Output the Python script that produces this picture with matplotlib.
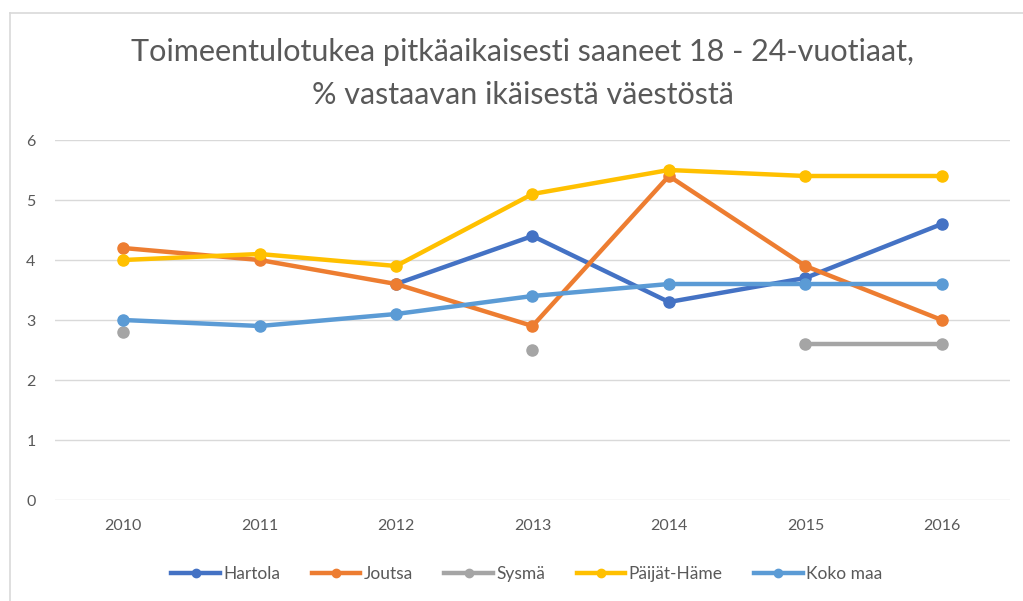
import matplotlib
matplotlib.use('Agg')
import matplotlib.pyplot as plt
from matplotlib.lines import Line2D

plt.rcParams['font.family'] = ['Lato', 'DejaVu Sans']

# Data (None = no value)
years = ['2010', '2011', '2012', '2013', '2014', '2015', '2016']
hartola = [None, None, 3.6, 4.4, 3.3, 3.7, 4.6]
joutsa = [4.2, 4.0, 3.6, 2.9, 5.4, 3.9, 3.0]
sysma = [2.8, None, None, 2.5, None, 2.6, 2.6]
paijat_hame = [4.0, 4.1, 3.9, 5.1, 5.5, 5.4, 5.4]
koko_maa = [3.0, 2.9, 3.1, 3.4, 3.6, 3.6, 3.6]

names = ['Hartola', 'Joutsa', 'Sysmä', 'Päijät-Häme', 'Koko maa']
series = [hartola, joutsa, sysma, paijat_hame, koko_maa]
colors = ['#4472C4', '#ED7D31', '#A5A5A5', '#FFC000', '#5B9BD5']

fig = plt.figure(figsize=(10.23, 6.01), dpi=100)
ax = fig.add_axes([55/1023, 1 - 500/601, (1010 - 55)/1023, 360/601])

x = list(range(len(years)))
for name, vals, col in zip(names, series, colors):
    ys = [float('nan') if v is None else v for v in vals]
    ax.plot(x, ys, color=col, lw=3.2, marker='o', ms=8, label=name,
            solid_capstyle='round')

ax.set_xlim(-0.5, len(years) - 0.5)
ax.set_ylim(0, 6)
ax.set_xticks(x)
ax.set_xticklabels(years)
ax.set_yticks(range(7))
ax.grid(axis='y', color='#D9D9D9', lw=1)
ax.set_axisbelow(True)
for s in ax.spines.values():
    s.set_visible(False)
ax.tick_params(length=0, colors='#595959', labelsize=11.5)
ax.tick_params(axis='x', pad=14)
ax.tick_params(axis='y', pad=14)

fig.text(0.511, 1 - 52/601, 'Toimeentulotukea pitkäaikaisesti saaneet 18 - 24-vuotiaat,',
         ha='center', va='center', fontsize=22, color='#595959')
fig.text(0.511, 1 - 95/601, '% vastaavan ikäisestä väestöstä',
         ha='center', va='center', fontsize=22, color='#595959')

handles = [Line2D([], [], color=c, lw=3.2, marker='o', ms=6) for c in colors]
fig.legend(handles, names, loc='center', bbox_to_anchor=(0.515, 1 - 574/601),
           ncol=5, frameon=False, fontsize=12.5, labelcolor='#595959',
           handlelength=2.8, handletextpad=0.2, columnspacing=1.8)

# chart frame border (left and top edges visible)
fig.add_artist(Line2D([10/1023, 10/1023], [0, 1 - 13/601], color='#D9D9D9', lw=1.2))
fig.add_artist(Line2D([10/1023, 1], [1 - 13/601, 1 - 13/601], color='#D9D9D9', lw=1.2))

fig.savefig('out.png', dpi=100)
